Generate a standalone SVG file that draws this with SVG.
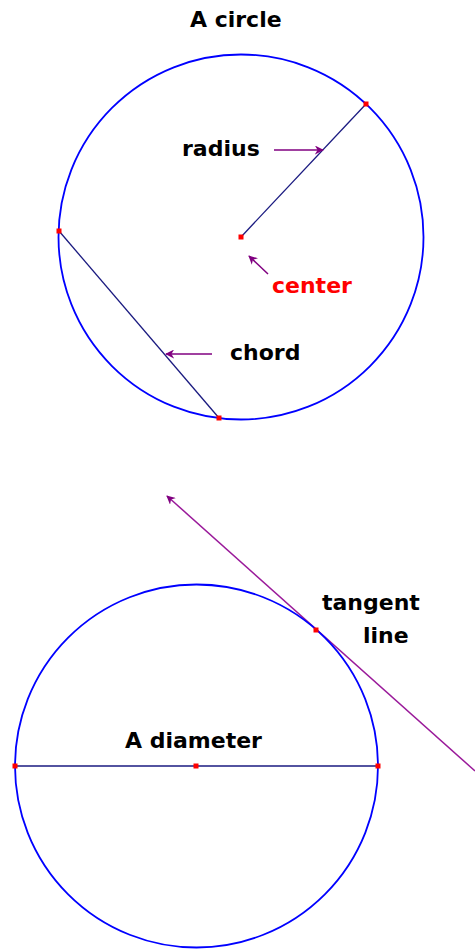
<svg xmlns="http://www.w3.org/2000/svg" width="475" height="949" viewBox="0 0 475 949">
<style>
.lbl{font-family:"DejaVu Sans",sans-serif;font-weight:bold;font-size:22px;fill:#000}
.red{fill:#ff0000}
.circ{fill:none;stroke:#0000ff;stroke-width:1.8}
.seg{stroke:#1a1a80;stroke-width:1.3}
.ptr{stroke:#800080;stroke-width:1.5;fill:none}
.tan{stroke:#9a1a9a;stroke-width:1.5;fill:none}
.pt{fill:#ff0000}
</style>
<defs>
<marker id="ah" viewBox="0 0 10 10" refX="9" refY="5" markerWidth="9" markerHeight="9" markerUnits="userSpaceOnUse" orient="auto">
<path d="M0,0 L10,5 L0,10 L3,5 z" fill="#800080"/>
</marker>
</defs>
<g id="title"><text class="lbl" x="190" y="27">A circle</text></g>
<g id="circle1"><circle class="circ" cx="241" cy="237" r="182.5"/></g>
<g id="connectors">
<line class="seg" x1="241" y1="237" x2="366" y2="104"/>
<line class="seg" x1="59" y1="231" x2="219" y2="418"/>
<line class="seg" x1="15" y1="766" x2="378" y2="766"/>
<line class="ptr" x1="274" y1="150" x2="323" y2="150" marker-end="url(#ah)"/>
<line class="ptr" x1="268" y1="274" x2="249" y2="256" marker-end="url(#ah)"/>
<line class="ptr" x1="212" y1="354" x2="166" y2="354" marker-end="url(#ah)"/>
<line class="tan" x1="475" y1="771" x2="167" y2="496" marker-end="url(#ah)"/>
</g>
<g id="points1">
<rect class="pt" x="363.5" y="101.5" width="5" height="5"/>
<rect class="pt" x="238.5" y="234.5" width="5" height="5"/>
<rect class="pt" x="56.5" y="228.5" width="5" height="5"/>
<rect class="pt" x="216.5" y="415.5" width="5" height="5"/>
</g>
<g id="radius"><text class="lbl" x="182" y="156">radius</text></g>
<g id="center"><text class="lbl red" x="272" y="293">center</text></g>
<g id="chord"><text class="lbl" x="230" y="360">chord</text></g>
<g id="circle2"><circle class="circ" cx="196.5" cy="766" r="181.5"/></g>
<g id="points2">
<rect class="pt" x="12.5" y="763.5" width="5" height="5"/>
<rect class="pt" x="193.5" y="763.5" width="5" height="5"/>
<rect class="pt" x="375.5" y="763.5" width="5" height="5"/>
<rect class="pt" x="313.5" y="627.5" width="5" height="5"/>
</g>
<g id="tangent"><text class="lbl" x="322" y="610">tangent</text><text class="lbl" x="363" y="643">line</text></g>
<g id="diameter"><text class="lbl" x="125" y="748">A diameter</text></g>
</svg>
